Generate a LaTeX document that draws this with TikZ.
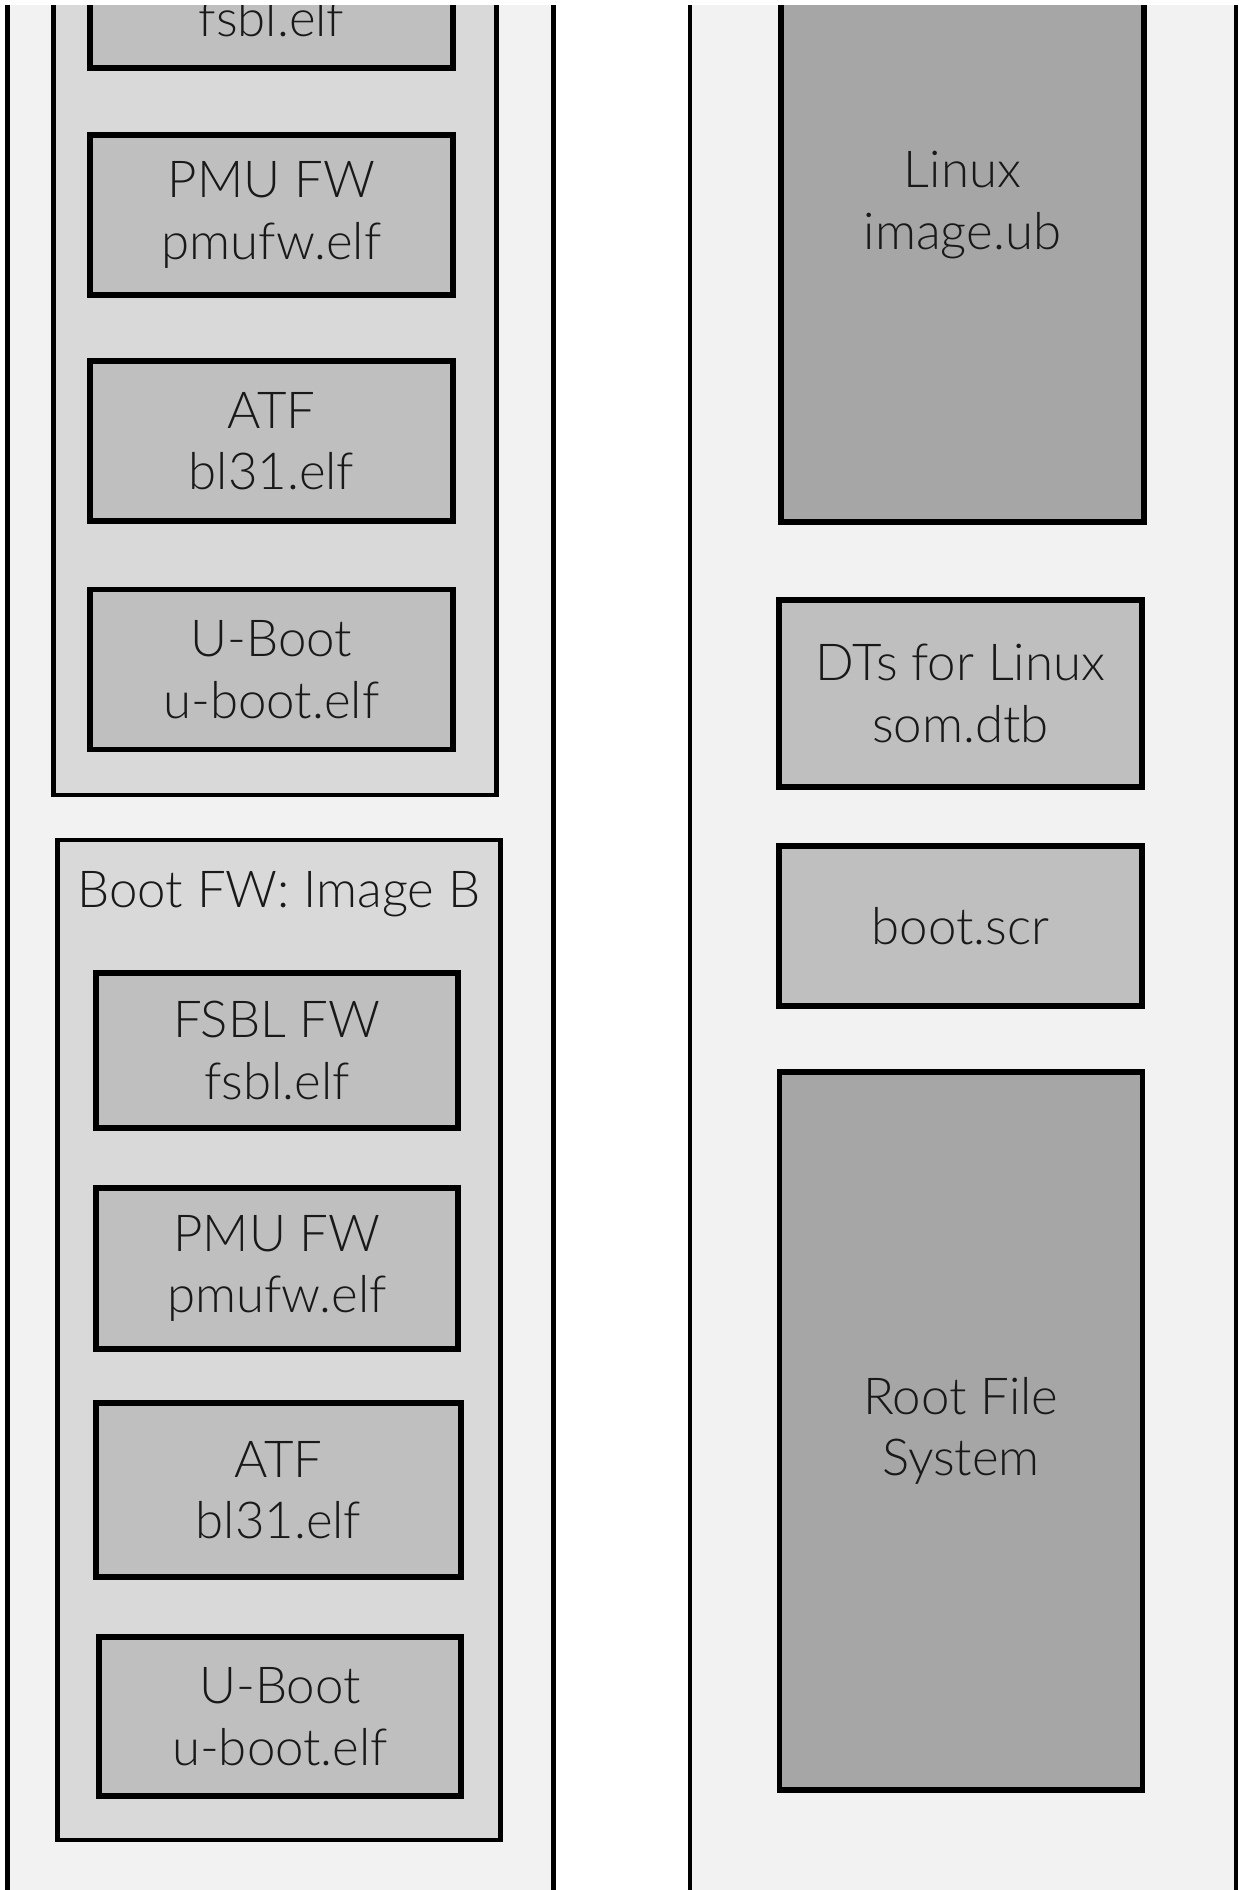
\documentclass[tikz,border=0pt]{standalone}
\usepackage{fontspec}
\setmainfont{Lato}[UprightFont={* Light}]
\definecolor{partbg}{HTML}{F2F2F2}
\definecolor{imgbg}{HTML}{D9D9D9}
\definecolor{filebg}{HTML}{BFBFBF}
\definecolor{bigbg}{HTML}{A6A6A6}
\begin{document}
\begin{tikzpicture}[x=0.02cm,y=-0.02cm,
    every node/.style={align=center,inner sep=0pt,text=black!90,
      font=\fontsize{29}{35}\selectfont},
    part/.style={draw,line width=2.4pt,fill=partbg,minimum width=10.92cm,minimum height=41.8cm},
    image/.style={draw,line width=2.4pt,fill=imgbg,minimum width=8.86cm},
    file/.style={draw,line width=3.1pt,fill=filebg,minimum width=7.26cm,minimum height=3.2cm},
    bigfile/.style={file,fill=bigbg}]
  \useasboundingbox (0,0) rectangle (1239,1890);
  \fill[white] (0,0) rectangle (1239,1890);
  \clip (0,5) rectangle (1239,1890);
  % partitions
  \node[part] (p1) at (280.5,945) {};
  \node[part] (p2) at (963,945) {};
  % boot images
  \node[image,minimum height=17.9cm] (imgA) at (275,347.5) {};
  \node[image,minimum height=20cm] (imgB) at (279,1340) {};
  \node (titleB) at (279,894) {Boot FW: Image B};
  % image A
  \node[file] (fsblA) at (271.5,-12) {FSBL FW\\fsbl.elf};
  \node[file] (pmuA) at (271.5,215) {PMU FW\\pmufw.elf};
  \node[file] (atfA) at (271.5,441) {ATF\\bl31.elf};
  \node[file] (ubootA) at (271.5,669.5) {U-Boot\\u-boot.elf};
  % image B
  \node[file,minimum height=3.1cm,minimum width=7.24cm] (fsblB) at (277,1050.5) {FSBL FW\\fsbl.elf};
  \node[file,minimum height=3.22cm,minimum width=7.24cm] (pmuB) at (277,1268.5) {PMU FW\\pmufw.elf};
  \node[file,minimum height=3.48cm,minimum width=7.3cm] (atfB) at (278.5,1490) {ATF\\bl31.elf};
  \node[file,minimum height=3.18cm,minimum width=7.24cm] (ubootB) at (280,1716.5) {U-Boot\\u-boot.elf};
  % linux partition
  \node[bigfile,minimum height=12.68cm] (linux) at (962.5,205) {Linux\\image.ub};
  \node[file,minimum height=3.74cm] (dtb) at (960.5,693.5) {DTs for Linux\\som.dtb};
  \node[file] (bootscr) at (960.5,926) {boot.scr};
  \node[bigfile,minimum height=14.36cm] (rootfs) at (961,1431) {Root File\\System};
\end{tikzpicture}
\end{document}
